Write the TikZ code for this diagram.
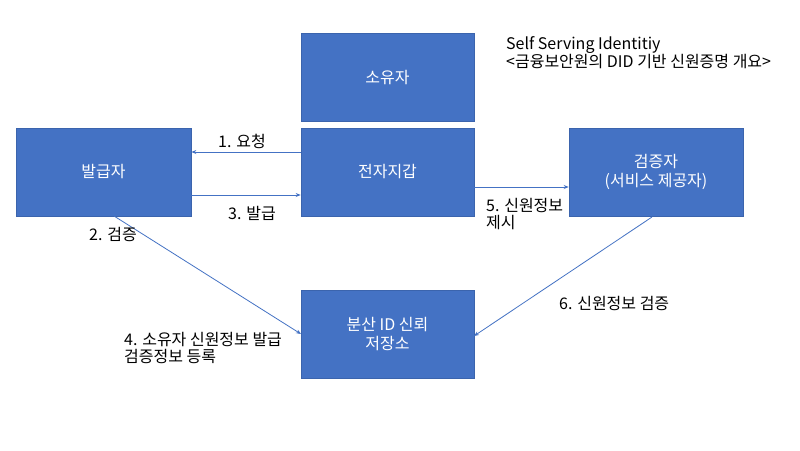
\documentclass[tikz,border=0pt]{standalone}
\usepackage{fontspec}
\setmainfont{Noto Sans CJK KR}
\usetikzlibrary{arrows.meta}
\definecolor{boxblue}{HTML}{4472C4}
\definecolor{boxedge}{HTML}{3B64AD}
\begin{document}
\begin{tikzpicture}[x=1pt,y=-1pt,
  every node/.style={font=\fontsize{16}{19}\selectfont, inner sep=0pt},
  blockbox/.style={rectangle, fill=boxblue, draw=boxedge, line width=0.6pt, text=white,
    minimum width=173pt, minimum height=88pt, align=center},
  conn/.style={draw=boxblue, line width=0.8pt, -{Stealth[length=5pt,width=4pt]}},
  lbl/.style={text=black, align=left}]
\useasboundingbox (0,0) rectangle (800,450);
\fill[white] (0,0) rectangle (800,450);

\node[blockbox] (owner) at (387.5,77.5) {소유자};
\node[blockbox, minimum width=175pt] (issuer) at (103.5,172) {발급자};
\node[blockbox] (wallet) at (387.5,172) {전자지갑};
\node[blockbox, minimum width=174pt] (verifier) at (656,172) {검증자\\(서비스 제공자)};
\node[blockbox] (registry) at (387.5,334.5) {분산 ID 신뢰\\저장소};

\node[lbl, anchor=north west, font=\fontsize{16}{15.5}\selectfont] (title) at (506,36) {Self Serving Identitiy\\<금융보안원의 DID 기반 신원증명 개요>};

\coordinate (w1) at (wallet.west |- 0,152);
\coordinate (i1) at (issuer.east |- 0,152);
\coordinate (i3) at (issuer.east |- 0,195);
\coordinate (w3) at (wallet.west |- 0,195);
\coordinate (w5) at (wallet.east |- 0,187);
\coordinate (v5) at (verifier.west |- 0,187);
\coordinate (i2) at (114,216);
\coordinate (r2) at (301,334);
\coordinate (v6) at (652,217);
\coordinate (r6) at (474,336);

\draw[conn] (w1) -- (i1);
\draw[conn] (i3) -- (w3);
\draw[conn] (w5) -- (v5);
\draw[conn] (i2) -- (r2);
\draw[conn] (v6) -- (r6);

\node[lbl, anchor=west] (l1) at (218,141) {1. 요청};
\node[lbl, anchor=west] (l3) at (228,213) {3. 발급};
\node[lbl, anchor=north west, font=\fontsize{16}{17}\selectfont] (l5) at (486,198) {5. 신원정보\\제시};
\node[lbl, anchor=west] (l2) at (89,234) {2. 검증};
\node[lbl, anchor=north west, font=\fontsize{16}{17}\selectfont] (l4) at (124,332) {4. 소유자 신원정보 발급\\검증정보 등록};
\node[lbl, anchor=west] (l6) at (559,303) {6. 신원정보 검증};
\end{tikzpicture}
\end{document}
